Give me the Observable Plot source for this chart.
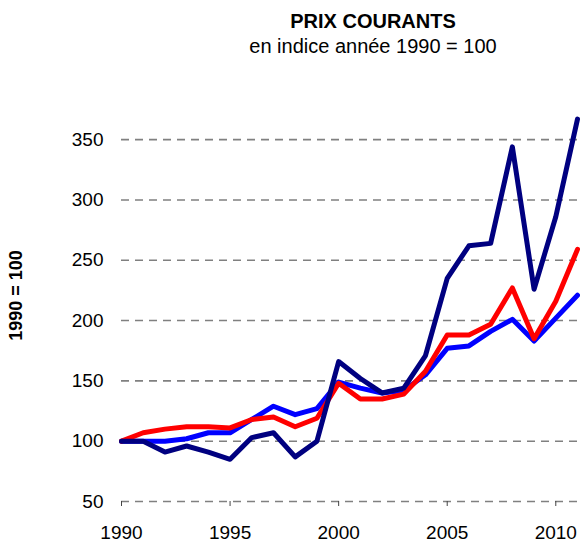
<!DOCTYPE html>
<html>
<head>
<meta charset="utf-8">
<script src="https://cdn.jsdelivr.net/npm/d3@7"></script>
<script src="https://cdn.jsdelivr.net/npm/@observablehq/plot@0.6"></script>
<style>
  body { margin: 0; background: #fff; font-family: "Liberation Sans", Arial, sans-serif; }
  #wrap { position: relative; width: 580px; height: 543px; }
  #head { position: relative; width: 580px; height: 70px; }
  .t { position: absolute; left: 173px; width: 400px; text-align: center; line-height: 20px; color: #000; white-space: nowrap; }
  #title { top: 11px; font-size: 20px; font-weight: bold; }
  #sub { top: 36px; font-size: 20px; }
</style>
</head>
<body>
<div id="wrap">
  <div id="head">
    <div class="t" id="title">PRIX COURANTS</div>
    <div class="t" id="sub">en indice année 1990 = 100</div>
  </div>
  <div id="chart"></div>
</div>
<script>
const years = [1990,1991,1992,1993,1994,1995,1996,1997,1998,1999,2000,2001,2002,2003,2004,2005,2006,2007,2008,2009,2010,2011];
const seriesNavy = [100,100,91,96,91,85,103,107,87,100,166,152,140,144,171,235,262,264,344,226,286,367];
const seriesRed  = [100,107,110,112,112,111,118,120,112,119,148,135,135,139,158,188,188,197,227,185,216,259];
const seriesBlue = [100,100,100,102,107,107,118,129,122,127,149,144,140,142,155,177,179,191,201,183,202,221];
const yTicks = [50,100,150,200,250,300,350];
const xTicks = [1990,1995,2000,2005,2010];
const yLabel = "1990 = 100";

const toRows = (vals) => years.map((y, i) => ({year: y, value: vals[i]}));

const chart = Plot.plot({
  width: 580,
  height: 473,
  marginLeft: 121,
  marginRight: 3,
  marginTop: 45,
  marginBottom: 42,
  style: {fontFamily: "Liberation Sans, Arial, sans-serif", fontSize: "19px", color: "#000", background: "#fff"},
  x: {domain: [1990, 2011]},
  y: {domain: [50, 370]},
  marks: [
    Plot.gridY(yTicks, {stroke: "#808080", strokeOpacity: 1, strokeWidth: 1.6, strokeDasharray: "8,6"}),
    Plot.axisY(yTicks, {tickSize: 0, tickPadding: 18, label: null, fontSize: 19}),
    Plot.axisX(xTicks, {tickSize: 5, tickPadding: 19, label: null, fontSize: 19, tickFormat: d => String(d), stroke: "#444"}),
    Plot.text([yLabel], {frameAnchor: "middle", rotate: -90, dx: -333, dy: -13, fontWeight: "bold", fontSize: 18, fill: "#000"}),
    Plot.line(toRows(seriesBlue), {x: "year", y: "value", stroke: "#0000ff", strokeWidth: 5}),
    Plot.line(toRows(seriesRed), {x: "year", y: "value", stroke: "#ff0000", strokeWidth: 5}),
    Plot.line(toRows(seriesNavy), {x: "year", y: "value", stroke: "#000080", strokeWidth: 5})
  ]
});
document.getElementById("chart").appendChild(chart);
</script>
</body>
</html>
